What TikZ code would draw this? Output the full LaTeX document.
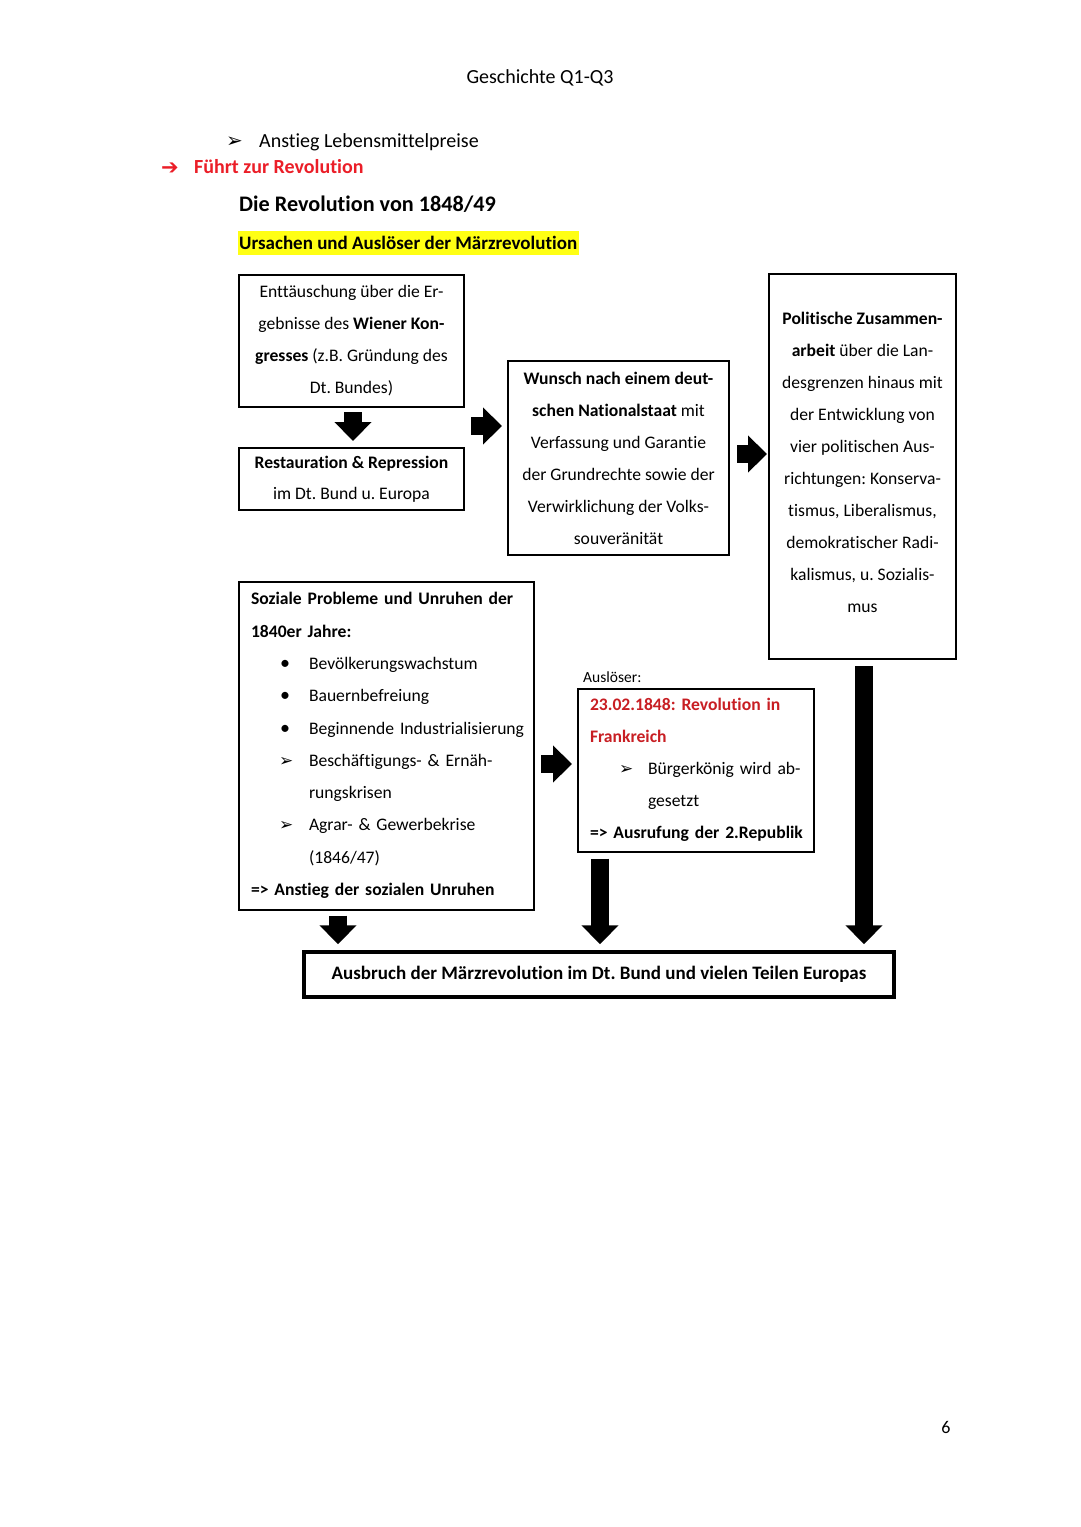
\documentclass[tikz,border=0pt]{standalone}
\usepackage{fontspec}
\setmainfont{Carlito}[Ligatures=NoCommon]
\newfontfamily\dejavu{DejaVu Sans}
\usetikzlibrary{arrows.meta,calc}
\definecolor{darkred}{RGB}{200,30,35}
\definecolor{brightred}{RGB}{235,30,40}
\definecolor{hlyellow}{RGB}{255,255,20}
\frenchspacing
\begin{document}
\begin{tikzpicture}[x=1pt,y=-1pt,
  box/.style={draw, line width=2pt, inner sep=0pt, font=\fontsize{17.6}{32}\selectfont, align=center},
  lbox/.style={box, align=left},
  barrow/.style={line width=18pt, -{Triangle[width=36pt,length=19pt]}},
  plain/.style={inner sep=0pt, anchor=base west}
]
\useasboundingbox[fill=white] (0,0) rectangle (1080,1527);

% header texts
\node[inner sep=0pt, anchor=base, font=\fontsize{20}{24}\selectfont] (hdr) at (540,83) {Geschichte Q1-Q3};
\node[plain, font=\fontsize{20}{20}\selectfont] (b0) at (226,147.5) {\dejavu ➢};
\node[plain, font=\fontsize{20}{24}\selectfont] (t0) at (259,147) {Anstieg Lebensmittelpreise};
\node[plain, font=\fontsize{21}{22}\selectfont, text=brightred] (b1) at (161,174) {\dejavu\bfseries ➔};
\node[plain, font=\fontsize{20}{22}\selectfont\bfseries, text=brightred] (t1) at (194,173) {Führt zur Revolution};
\node[plain, font=\fontsize{22.2}{24}\selectfont\bfseries] (title) at (239,211) {Die Revolution von 1848/49};
\fill[hlyellow] (238,231) rectangle (579,255);
\node[plain, font=\fontsize{19}{22}\selectfont\bfseries] (sub) at (239,249.5) {Ursachen und Auslöser der Märzrevolution};

% boxes
\node[box, minimum width=225pt, minimum height=132pt] (A) at (351.5,341)
  {Enttäuschung über die Er-\\gebnisse des \textbf{Wiener Kon-}\\\textbf{gresses} (z.B. Gründung des\\Dt. Bundes)};
\node[box, minimum width=225pt, minimum height=62pt] (B) at (351.5,479)
  {\textbf{Restauration \& Repression}\\[-1pt]im Dt. Bund u. Europa};
\node[box, minimum width=221pt, minimum height=194pt] (C) at (618.5,458)
  {\textbf{Wunsch nach einem deut-}\\\textbf{schen Nationalstaat} mit\\Verfassung und Garantie\\der Grundrechte sowie der\\Verwirklichung der Volks-\\souveränität};
\node[box, minimum width=187pt, minimum height=385pt] (D) at (862.5,466.5)
  {\textbf{Politische Zusammen-}\\\textbf{arbeit} über die Lan-\\desgrenzen hinaus mit\\der Entwicklung von\\vier politischen Aus-\\richtungen: Konserva-\\tismus, Liberalismus,\\demokratischer Radi-\\kalismus, u. Sozialis-\\mus\\[-24pt]\mbox{}};
\node[lbox, minimum width=295pt, minimum height=328pt, text width=271pt, font=\fontsize{17.6}{32.3}\selectfont] (E) at (386.5,745.5)
  {\mbox{\textbf{Soziale Probleme und Unruhen der}}\\
   \mbox{\textbf{1840er Jahre:}}\\
   \mbox{\hspace*{29pt}\makebox[29pt][l]{\fontsize{20}{20}\selectfont•}Bevölkerungswachstum}\\
   \mbox{\hspace*{29pt}\makebox[29pt][l]{\fontsize{20}{20}\selectfont•}Bauernbefreiung}\\
   \mbox{\hspace*{29pt}\makebox[29pt][l]{\fontsize{20}{20}\selectfont•}Beginnende Industrialisierung}\\
   \mbox{\hspace*{28pt}\makebox[30pt][l]{\dejavu\fontsize{17}{17}\selectfont ➢}Beschäftigungs- \& Ernäh-}\\
   \mbox{\hspace*{58pt}rungskrisen}\\
   \mbox{\hspace*{28pt}\makebox[30pt][l]{\dejavu\fontsize{17}{17}\selectfont ➢}Agrar- \& Gewerbekrise}\\
   \mbox{\hspace*{58pt}(1846/47)}\\
   \mbox{\textbf{=> Anstieg der sozialen Unruhen}}};
\node[plain, font=\fontsize{15.5}{18}\selectfont] (ausl) at (583,682) {Auslöser:};
\node[lbox, minimum width=236pt, minimum height=163pt, text width=212pt] (F) at (696,770)
  {\mbox{\textcolor{darkred}{\textbf{23.02.1848: Revolution in}}}\\
   \mbox{\textcolor{darkred}{\textbf{Frankreich}}}\\
   \mbox{\hspace*{29pt}\makebox[29pt][l]{\dejavu\fontsize{17}{17}\selectfont ➢}Bürgerkönig wird ab-}\\
   \mbox{\hspace*{58pt}gesetzt}\\
   \mbox{\textbf{=> Ausrufung der 2.Republik}}};
\node[box, line width=3.5pt, minimum width=590pt, minimum height=45pt, font=\fontsize{19}{22}\selectfont\bfseries] (G) at (599,974.5)
  {Ausbruch der Märzrevolution im Dt. Bund und vielen Teilen Europas};

\node[inner sep=0pt, anchor=base, font=\fontsize{18}{22}\selectfont] (pnum) at (946,1433) {6};

% connectors
\coordinate (r1) at (0,426);
\coordinate (r2) at (0,454);
\coordinate (r3) at (0,764);
\coordinate (c1) at (338,0);
\coordinate (c2) at (600,0);
\coordinate (c3) at (864,0);
\draw[barrow] ([yshift=-4pt]A.south -| 353,0) -- ([yshift=6pt]B.north -| 353,0);
\draw[barrow] ([xshift=6pt]A.east |- r1) -- ([xshift=-5pt]C.west |- r1);
\draw[barrow] ([xshift=7pt]C.east |- r2) -- ([xshift=-1pt]D.west |- r2);
\draw[barrow] ([xshift=6pt]E.east |- r3) -- ([xshift=-5pt]F.west |- r3);
\draw[barrow] ([yshift=-5pt]E.south -| c1) -- ([yshift=6pt]G.north -| c1);
\draw[barrow] ([yshift=-6pt]F.south -| c2) -- ([yshift=6pt]G.north -| c2);
\draw[barrow] ([yshift=-6pt]D.south -| c3) -- ([yshift=6pt]G.north -| c3);
\end{tikzpicture}
\end{document}
